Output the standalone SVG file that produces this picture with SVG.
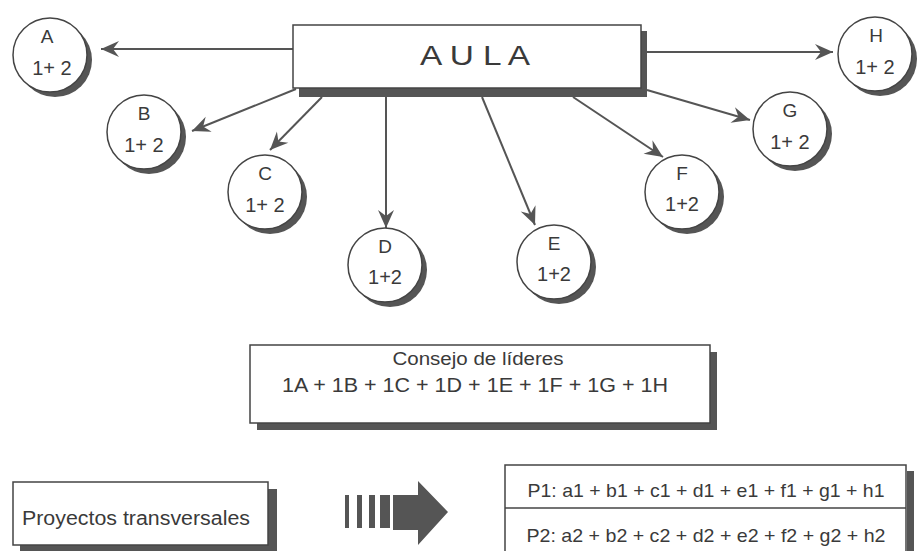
<svg xmlns="http://www.w3.org/2000/svg" width="920" height="551" viewBox="0 0 920 551">
<defs>
<style>
text{font-family:"Liberation Sans",Arial,sans-serif;fill:#3a3a3a}
.box{fill:#fff;stroke:#444;stroke-width:1.5}
.sh{fill:#555}
.circ{fill:#fff;stroke:#444;stroke-width:1.5}
.lbl{font-size:19px;text-anchor:middle}
.num{font-size:20px;text-anchor:middle}
.conn{stroke:#555;stroke-width:2;fill:none;marker-end:url(#ah)}
</style>
<marker id="ah" viewBox="-19 -9 20 18" refX="0" refY="0" markerWidth="20" markerHeight="18" markerUnits="userSpaceOnUse" orient="auto">
<path d="M0,0 L-18,-8 L-12,0 L-18,8 Z" fill="#555"/>
</marker>
</defs>
<rect width="920" height="551" fill="#fff"/>

<g id="connectors">
<line class="conn" x1="293" y1="49" x2="101" y2="49"/>
<line class="conn" x1="647" y1="52" x2="833" y2="52"/>
<line class="conn" x1="296" y1="89" x2="192" y2="131"/>
<line class="conn" x1="322" y1="97" x2="270" y2="150"/>
<line class="conn" x1="386" y1="97" x2="386" y2="228"/>
<line class="conn" x1="482" y1="97" x2="535" y2="225"/>
<line class="conn" x1="573" y1="97" x2="663" y2="157"/>
<line class="conn" x1="647" y1="90" x2="750" y2="120"/>
</g>

<g id="aula">
<rect class="sh" x="299" y="31" width="348" height="66"/>
<rect class="box" x="293" y="25" width="348" height="63"/>
<text x="420" y="65" font-size="28" textLength="110" lengthAdjust="spacingAndGlyphs">A U L A</text>
</g>

<g id="nodeA">
<circle class="sh" cx="55" cy="60" r="37"/>
<circle class="circ" cx="50" cy="55" r="37"/>
<text class="lbl" x="47" y="43">A</text>
<text class="num" x="52" y="75">1+ 2</text>
</g>
<g id="nodeB">
<circle class="sh" cx="149" cy="137" r="37"/>
<circle class="circ" cx="144" cy="132" r="37"/>
<text class="lbl" x="144" y="120">B</text>
<text class="num" x="144" y="152">1+ 2</text>
</g>
<g id="nodeC">
<circle class="sh" cx="270" cy="197" r="37"/>
<circle class="circ" cx="265" cy="192" r="37"/>
<text class="lbl" x="265" y="180">C</text>
<text class="num" x="265" y="212">1+ 2</text>
</g>
<g id="nodeD">
<circle class="sh" cx="390" cy="270" r="37"/>
<circle class="circ" cx="385" cy="265" r="37"/>
<text class="lbl" x="385" y="253">D</text>
<text class="num" x="385" y="284">1+2</text>
</g>
<g id="nodeE">
<circle class="sh" cx="559" cy="267" r="37"/>
<circle class="circ" cx="554" cy="262" r="37"/>
<text class="lbl" x="554" y="250">E</text>
<text class="num" x="554" y="281">1+2</text>
</g>
<g id="nodeF">
<circle class="sh" cx="687" cy="197" r="37"/>
<circle class="circ" cx="682" cy="192" r="37"/>
<text class="lbl" x="682" y="180">F</text>
<text class="num" x="682" y="211">1+2</text>
</g>
<g id="nodeG">
<circle class="sh" cx="795" cy="134" r="37"/>
<circle class="circ" cx="790" cy="129" r="37"/>
<text class="lbl" x="790" y="117">G</text>
<text class="num" x="790" y="149">1+ 2</text>
</g>
<g id="nodeH">
<circle class="sh" cx="880" cy="59" r="37"/>
<circle class="circ" cx="875" cy="54" r="37"/>
<text class="lbl" x="876" y="42">H</text>
<text class="num" x="875" y="74">1+ 2</text>
</g>

<g id="consejo">
<rect class="sh" x="257" y="352" width="460" height="78"/>
<rect class="box" x="250" y="345" width="460" height="78"/>
<text x="478" y="365" font-size="18" text-anchor="middle" textLength="171" lengthAdjust="spacingAndGlyphs">Consejo de líderes</text>
<text x="475" y="392" font-size="20" text-anchor="middle" textLength="386" lengthAdjust="spacingAndGlyphs">1A + 1B + 1C + 1D + 1E + 1F + 1G + 1H</text>
</g>

<g id="proyectos">
<rect class="sh" x="20" y="489" width="257" height="62"/>
<rect class="box" x="13" y="482" width="255" height="63"/>
<text x="22" y="525" font-size="20" textLength="228" lengthAdjust="spacingAndGlyphs">Proyectos transversales</text>
</g>

<g id="fatarrow" fill="#555">
<rect x="345" y="495" width="4" height="33"/>
<rect x="357" y="495" width="5" height="33"/>
<rect x="369" y="495" width="6" height="33"/>
<rect x="380" y="495" width="10" height="33"/>
<path d="M393,495 L418,495 L418,481 L448,512 L418,545 L418,530 L393,530 Z"/>
</g>

<g id="tabla">
<rect class="sh" x="907" y="471" width="7" height="80"/>
<rect class="box" x="505" y="465" width="401" height="90"/>
<line x1="505" y1="508" x2="906" y2="508" stroke="#444" stroke-width="1.5"/>
<text x="706" y="497" font-size="19" text-anchor="middle" textLength="357" lengthAdjust="spacingAndGlyphs">P1: a1 + b1 + c1 + d1 + e1 + f1 + g1 + h1</text>
<text x="706" y="542" font-size="19" text-anchor="middle" textLength="359" lengthAdjust="spacingAndGlyphs">P2: a2 + b2 + c2 + d2 + e2 + f2 + g2 + h2</text>
</g>
</svg>
